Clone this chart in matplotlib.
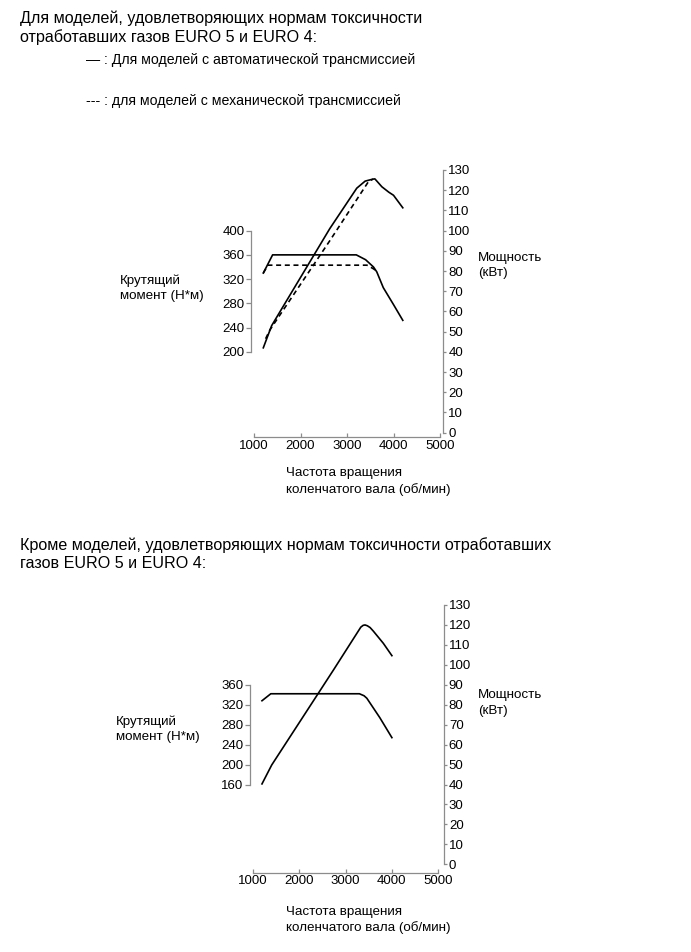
import matplotlib
matplotlib.use('Agg')
import matplotlib.pyplot as plt

plt.rcParams['font.family'] = ['Liberation Sans', 'DejaVu Sans']

# --- верхний график (EURO 5 / EURO 4) ---
at_torque_rpm = [1200, 1400, 3200, 3400, 3570, 3640, 3780, 4000, 4200]
at_torque = [330, 360, 360, 352, 340, 332, 306, 278, 252]
mt_torque_rpm = [1200, 1300, 3430, 3570, 3620]
mt_torque = [330, 343, 343, 337, 334]

at_power_rpm = [1200, 1380, 2630, 3210, 3390, 3560, 3600, 3750, 3900, 4000, 4200]
at_power = [42, 53, 101, 121, 124.5, 125.5, 125.6, 121.7, 119, 117.5, 111.3]
mt_power_rpm = [1250, 1340, 2630, 3460, 3560]
mt_power = [46.5, 50.8, 95, 124.2, 125.5]

# --- нижний график (кроме EURO 5 / EURO 4) ---
b_torque_rpm = [1200, 1390, 3300, 3400, 3460, 3740, 4000]
b_torque = [328, 342, 342, 338, 333, 294, 254]
b_power_rpm = [1200, 1410, 2740, 3330, 3380, 3420, 3470, 3530, 3600, 3815, 4000]
b_power = [40.3, 49.8, 97.4, 118.9, 119.8, 120, 119.6, 118.7, 116.9, 110.8, 104.6]

rpm_ticks = [1000, 2000, 3000, 4000, 5000]
power_ticks = list(range(0, 131, 10))
top_torque_ticks = [200, 240, 280, 320, 360, 400]
bot_torque_ticks = [160, 200, 240, 280, 320, 360]

W, H = 691, 952
fig = plt.figure(figsize=(W / 100, H / 100), dpi=100)

gray = '#8c8c8c'
tick_fs = 9.5
lab_fs = 9.6
ls_lab = 1.38


def px(x, y):
    return x / W, 1 - y / H


def make_chart(rect, t_lim, t_ticks, xoff, roff, loff):
    ax = fig.add_axes(rect)
    ax2 = ax.twinx()
    ax.set_xlim(1000, 5000)
    ax.set_ylim(*t_lim)
    ax2.set_ylim(0, 130)
    for a in (ax, ax2):
        a.patch.set_visible(False)
        for s in a.spines.values():
            s.set_visible(False)
    ax.spines['left'].set_visible(True)
    ax.spines['left'].set_bounds(t_ticks[0], t_ticks[-1])
    ax.spines['left'].set_position(('outward', loff))
    ax.spines['bottom'].set_visible(True)
    ax.spines['bottom'].set_position(('outward', xoff))
    ax2.spines['right'].set_visible(True)
    ax2.spines['right'].set_bounds(0, 130)
    ax2.spines['right'].set_position(('outward', roff))
    for s in (ax.spines['left'], ax.spines['bottom'], ax2.spines['right']):
        s.set_color(gray)
        s.set_linewidth(0.9)
    ax.set_xticks(rpm_ticks)
    ax.set_yticks(t_ticks)
    ax2.set_yticks(power_ticks)
    ax.tick_params(axis='x', direction='in', length=3, width=0.9, color=gray,
                   labelsize=tick_fs, pad=2)
    ax.tick_params(axis='y', direction='out', length=3.5, width=0.9, color=gray,
                   labelsize=tick_fs, pad=1)
    ax2.tick_params(axis='y', direction='out', length=2.5, width=0.9, color=gray,
                    labelsize=tick_fs, pad=1)
    return ax, ax2


# верхний
ax, ax2 = make_chart([254 / W, 1 - 432.7 / H, 186 / W, 262.7 / H],
                     (200 - 40 * 10 / 3, 200 + 90 * 10 / 3), top_torque_ticks,
                     3.3, 2.4, 2.2)
ax.plot(at_torque_rpm, at_torque, color='black', lw=1.2)
ax.plot(mt_torque_rpm, mt_torque, color='black', lw=1.2, ls=(0, (3, 2.2)))
ax2.plot(at_power_rpm, at_power, color='black', lw=1.2)
ax2.plot(mt_power_rpm, mt_power, color='black', lw=1.2, ls=(0, (3, 2.2)))

# нижний
bx, bx2 = make_chart([252.7 / W, 1 - 864.3 / H, 185.6 / W, 259.3 / H],
                     (0, 520), bot_torque_ticks, 6.0, 4.1, 2.0)
bx.plot(b_torque_rpm, b_torque, color='black', lw=1.2)
bx2.plot(b_power_rpm, b_power, color='black', lw=1.2)

# тексты
hdr = 11.6
leg = 10.2
fig.text(*px(20, 18), 'Для моделей, удовлетворяющих нормам токсичности',
         fontsize=hdr, va='center')
fig.text(*px(20, 37), 'отработавших газов EURO 5 и EURO 4:',
         fontsize=hdr, va='center')
fig.text(*px(86, 60), '— : Для моделей с автоматической трансмиссией',
         fontsize=leg, va='center')
fig.text(*px(86, 101), '--- : для моделей с механической трансмиссией',
         fontsize=leg, va='center')

fig.text(*px(120, 288.5), 'Крутящий\nмомент (Н*м)', fontsize=lab_fs,
         va='center', linespacing=ls_lab)
fig.text(*px(478, 265.5), 'Мощность\n(кВт)', fontsize=lab_fs,
         va='center', linespacing=ls_lab)
fig.text(*px(286, 481.5), 'Частота вращения\nколенчатого вала (об/мин)',
         fontsize=lab_fs, va='center', linespacing=ls_lab)

fig.text(*px(20, 545), 'Кроме моделей, удовлетворяющих нормам токсичности отработавших',
         fontsize=hdr, va='center')
fig.text(*px(20, 563), 'газов EURO 5 и EURO 4:', fontsize=hdr, va='center')

fig.text(*px(116, 729.5), 'Крутящий\nмомент (Н*м)', fontsize=lab_fs,
         va='center', linespacing=ls_lab)
fig.text(*px(478, 703), 'Мощность\n(кВт)', fontsize=lab_fs,
         va='center', linespacing=ls_lab)
fig.text(*px(286, 920), 'Частота вращения\nколенчатого вала (об/мин)',
         fontsize=lab_fs, va='center', linespacing=ls_lab)

fig.savefig('out.png', dpi=100)
